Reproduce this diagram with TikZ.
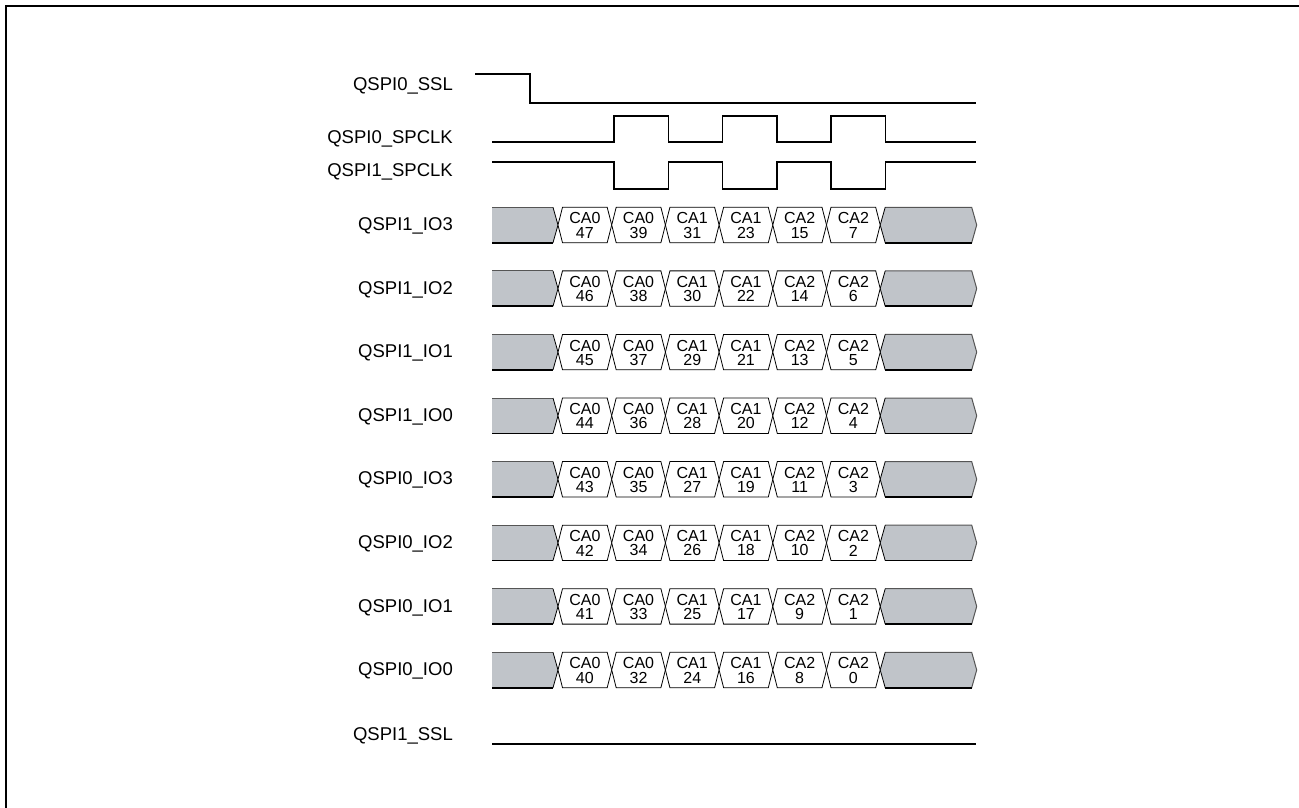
\documentclass[tikz,border=0pt]{standalone}
\usepackage{fontspec}
\setmainfont{Liberation Sans}
\definecolor{busgray}{RGB}{192,196,201}
\definecolor{edgegray}{RGB}{85,85,85}
\begin{document}
\begin{tikzpicture}[x=1pt,y=-1pt,
  lbl/.style={anchor=east, font=\fontsize{18.5}{20}\selectfont, inner sep=0pt},
  wave/.style={line width=1.6pt, line join=miter},
  dtxt/.style={anchor=center, align=center, font=\fontsize{16}{14.2}\selectfont, inner sep=0pt},
  boxline/.style={draw=black, line width=0.8pt},
  grayfill/.style={fill=busgray},
  graytop/.style={draw=edgegray, line width=1pt},
  graybot/.style={draw=black, line width=1.8pt}]
\useasboundingbox (0,0) rectangle (1299,808);
% frame
\draw[line width=2.5pt] (6,808) -- (6,6) -- (1299,6);

% labels
\node[lbl] (lssl0) at (453,86) {QSPI0\_SSL};
\node[lbl] (lclk0) at (453,139) {QSPI0\_SPCLK};
\node[lbl] (lclk1) at (453,172) {QSPI1\_SPCLK};
\foreach \nm [count=\i from 0] in {QSPI1\_IO3,QSPI1\_IO2,QSPI1\_IO1,QSPI1\_IO0,QSPI0\_IO3,QSPI0\_IO2,QSPI0\_IO1,QSPI0\_IO0} {
  \pgfmathsetmacro\yl{226+63.57*\i}
  \node[lbl] (lrow\i) at (453,\yl) {\nm};
}
\node[lbl] (lssl1) at (453,736) {QSPI1\_SSL};

% SSL0
\draw[wave] (475,74) -- (530,74) -- (530,103) -- (976,103);
% SPCLK0
\draw[wave] (492,142) -- (614,142) -- (614,116) -- (668.3,116) -- (668.3,142)
  -- (722.6,142) -- (722.6,116) -- (776.9,116) -- (776.9,142)
  -- (831.2,142) -- (831.2,116) -- (885.5,116) -- (885.5,142) -- (976,142);
% SPCLK1
\draw[wave] (492,162) -- (614,162) -- (614,189) -- (668.3,189) -- (668.3,162)
  -- (722.6,162) -- (722.6,189) -- (776.9,189) -- (776.9,162)
  -- (831.2,162) -- (831.2,189) -- (885.5,189) -- (885.5,162) -- (976,162);
% SSL1
\draw[line width=1.2pt] (492,744) -- (976,744);

% data buses
\foreach \i in {0,...,7} {
  \pgfmathsetmacro\yc{225+63.57*\i}
  \pgfmathsetmacro\yt{\yc-17.7}
  \pgfmathsetmacro\yb{\yc+17.7}
  \pgfmathsetmacro\cz{558}
  \pgfmathsetmacro\cs{880.2}
  % left gray
  \fill[grayfill] (492,\yt) -- (\cz-5,\yt) -- (\cz,\yc) -- (\cz-5,\yb) -- (492,\yb) -- cycle;
  \draw[graytop] (492,\yt) -- (\cz-5,\yt);
  \draw[boxline] (\cz-5,\yt) -- (\cz,\yc) -- (\cz-5,\yb);
  \draw[graybot] (492,\yb) -- (\cz-5,\yb);
  % right gray
  \fill[grayfill] (\cs,\yc) -- (\cs+5,\yt) -- (971.7,\yt) -- (976.7,\yc) -- (971.7,\yb) -- (\cs+5,\yb) -- cycle;
  \draw[graytop] (\cs+5,\yt) -- (971.7,\yt) -- (976.7,\yc) -- (971.7,\yb);
  \draw[boxline] (\cs+5,\yt) -- (\cs,\yc) -- (\cs+5,\yb);
  \draw[graybot] (\cs+5,\yb) -- (971.7,\yb);
  % white boxes
  \foreach \k in {0,...,5} {
    \pgfmathsetmacro\ca{558+53.7*\k}
    \pgfmathsetmacro\cb{558+53.7*(\k+1)}
    \pgfmathsetmacro\xm{(\ca+\cb)/2}
    \pgfmathtruncatemacro\cn{int(\k/2)}
    \pgfmathtruncatemacro\bn{47-\i-8*\k}
    \draw[boxline, fill=white] (\ca,\yc) -- (\ca+4.5,\yt) -- (\cb-4.5,\yt) -- (\cb,\yc) -- (\cb-4.5,\yb) -- (\ca+4.5,\yb) -- cycle;
    \node[dtxt] (t\i-\k) at (\xm,\yc+0.5) {CA\cn\\\bn};
  }
}
\end{tikzpicture}
\end{document}
